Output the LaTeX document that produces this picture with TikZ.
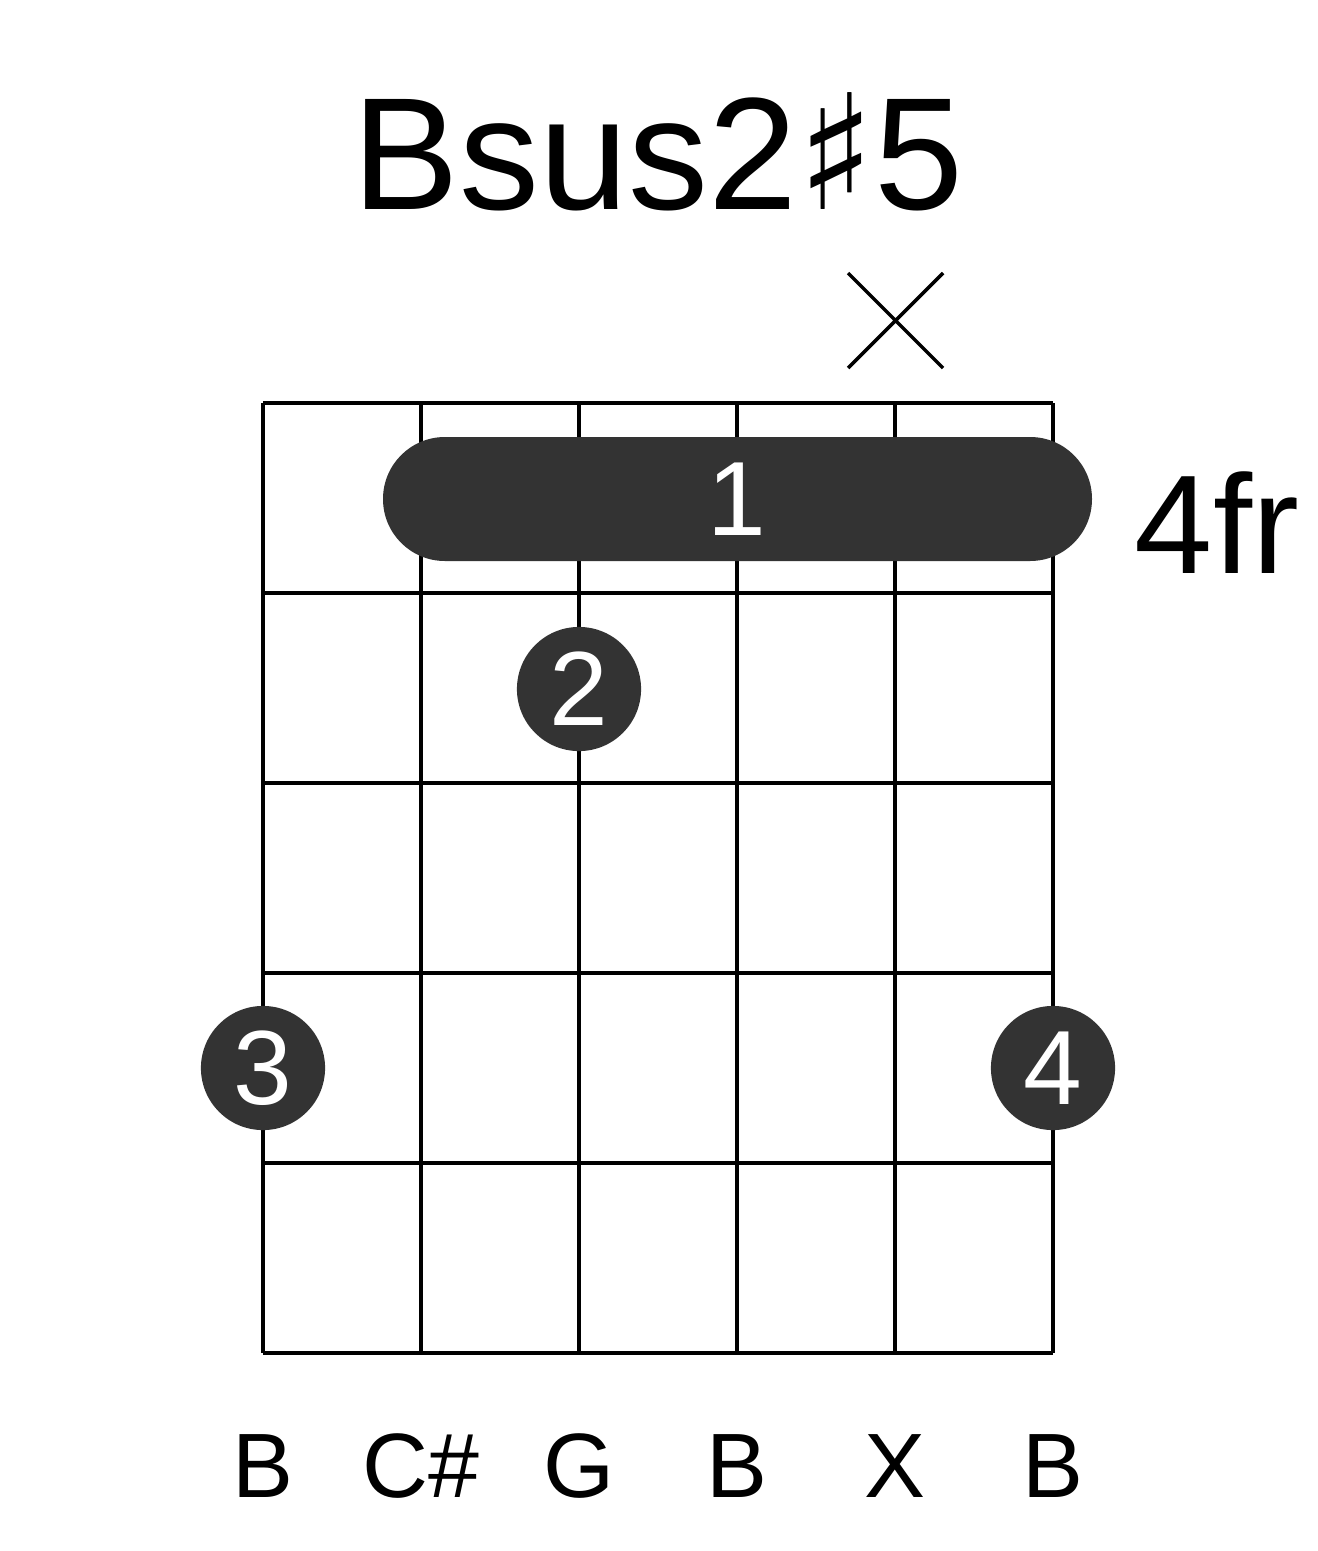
\documentclass[tikz,border=0pt]{standalone}
\usepackage{fontspec}
\setmainfont{Liberation Sans}
\newfontfamily\symfont{DejaVu Sans}
\begin{document}
\begin{tikzpicture}[x=0.01cm,y=-0.01cm,
  grid/.style={line width=1.28pt},
  dot/.style={circle,fill=black!80,minimum size=35.3pt,inner sep=0pt,text=white,font=\fontsize{30}{30}\selectfont},
  lab/.style={font=\fontsize{26}{26}\selectfont}]
\useasboundingbox[fill=white] (0,0) rectangle (1317,1551);
\foreach \x in {263,421,579,737,895,1053} \draw[grid] (\x,403) -- (\x,1353);
\foreach \y in {403,593,783,973,1163,1353} \draw[grid] (263,\y) -- (1053,\y);
\node[font=\fontsize{45.5}{45.5}\selectfont] (title) at (658,152) {Bsus2{\symfont\fontsize{45.5}{45.5}\selectfont♯}5};
\fill[black!80,rounded corners=17.6pt] (383,437) rectangle (1092,561);
\node[text=white,font=\fontsize{30}{30}\selectfont] (b1) at (737,499) {1};
\node[font=\fontsize{40}{40}\selectfont] (fr) at (1217,523) {4fr};
\node[dot] (d2) at (579,689) {2};
\node[dot] (d3) at (263,1068) {3};
\node[dot] (d4) at (1053,1068) {4};
\coordinate (xa) at (848,273); \coordinate (xb) at (943,368);
\coordinate (xc) at (848,368); \coordinate (xd) at (943,273);
\draw[line width=1pt] (xa) -- (xb) (xc) -- (xd);
\foreach \x/\t/\n in {263/B/a,421/C\#/b,579/G/c,737/B/d,895/X/e,1053/B/f}
  \node[lab] (n\n) at (\x,1466) {\t};
\end{tikzpicture}
\end{document}
